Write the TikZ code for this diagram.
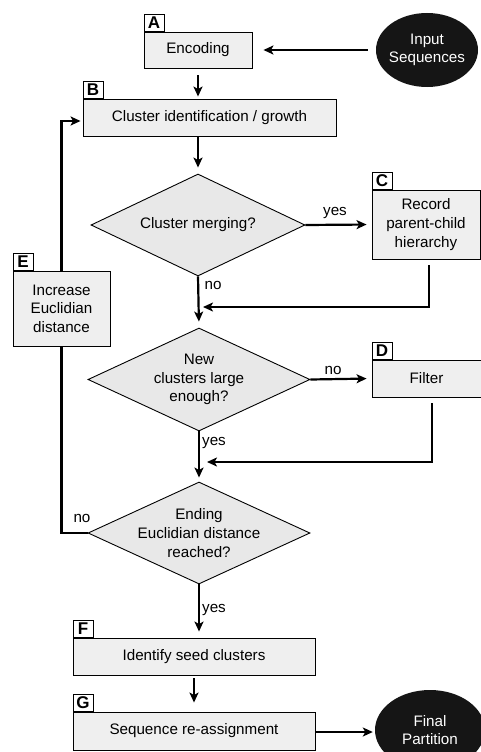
\documentclass[tikz,border=0pt]{standalone}
\usepackage{fontspec}
\setmainfont{Liberation Sans}
\usetikzlibrary{shapes.geometric,arrows.meta,calc}
\definecolor{boxgray}{HTML}{EFEFEF}
\definecolor{diagray}{HTML}{E8E8E8}
\definecolor{ovalblack}{HTML}{151515}
\newcommand{\diagfont}{\fontsize{15.2}{18.6}\selectfont}
\begin{document}
\begin{tikzpicture}[x=1pt,y=-1pt,
  box/.style={draw=black, line width=0.9pt, fill=boxgray, inner sep=0pt, align=center, font=\diagfont},
  tag/.style={draw=black, line width=0.9pt, fill=white, minimum width=20pt, minimum height=17pt, inner sep=0pt, font=\bfseries\fontsize{17}{17}\selectfont, anchor=south west},
  dia/.style={diamond, draw=black, line width=0.9pt, fill=diagray, inner sep=0pt},
  oval/.style={ellipse, fill=ovalblack, inner sep=0pt},
  ovaltext/.style={text=white, align=center, font=\diagfont},
  diatext/.style={align=center, font=\diagfont},
  lbl/.style={font=\diagfont, inner sep=0pt},
  conn/.style={line width=2.2pt, -{Stealth[length=10pt,width=9pt,inset=2.5pt]}},
  plain/.style={line width=2.2pt}
]
\useasboundingbox (0,0) rectangle (481,752);

% nodes
\node[box, minimum width=108pt, minimum height=36pt] (A) at (198,50) {Encoding};
\node[tag] (Atag) at (A.north west) {A};
\node[oval, minimum width=102pt, minimum height=74pt, label={[ovaltext]center:Input\\Sequences}] (inp) at (427,50) {};

\node[box, minimum width=253pt, minimum height=37pt] (B) at (209.5,117.5) {Cluster identification / growth};
\node[tag] (Btag) at (B.north west) {B};

\node[dia, minimum width=214pt, minimum height=102pt, label={[diatext]center:Cluster merging?}] (d1) at (198,225) {};

\node[box, minimum width=108pt, minimum height=69pt] (C) at (426,224.5) {Record\\parent-child\\hierarchy};
\node[tag] (Ctag) at (C.north west) {C};

\node[box, minimum width=97pt, minimum height=75pt] (E) at (61.5,308.5) {Increase\\Euclidian\\distance};
\node[tag] (Etag) at (E.north west) {E};

\node[dia, minimum width=222pt, minimum height=103pt, label={[diatext]center:New\\clusters large\\enough?}] (d2) at (199,379.5) {};

\node[box, minimum width=109pt, minimum height=37pt] (D) at (426.5,378.5) {Filter};
\node[tag] (Dtag) at (D.north west) {D};

\node[dia, minimum width=222pt, minimum height=102pt, label={[diatext]center:Ending\\Euclidian distance\\reached?}] (d3) at (199,533) {};

\node[box, minimum width=242pt, minimum height=37pt] (F) at (194,656.5) {Identify seed clusters};
\node[tag] (Ftag) at (F.north west) {F};

\node[box, minimum width=242pt, minimum height=38pt] (G) at (194,731) {Sequence re-assignment};
\node[tag] (Gtag) at (G.north west) {G};

\node[oval, minimum width=110pt, minimum height=80pt, label={[ovaltext]center:Final\\Partition}] (fin) at (430,730) {};

% junction points
\coordinate (j1) at (198,307);
\coordinate (j2) at (198,462);

% connectors
\draw[conn, shorten <=8pt, shorten >=11pt] (inp.west) -- (A.east);
\draw[conn, shorten <=7pt, shorten >=2pt] (A.south) -- (A.south |- B.north);
\draw[conn, shorten >=6pt] (d1.north |- B.south) -- (d1.north);
\draw[conn, shorten >=5pt] (d1.east) -- (C.west);
\draw[conn, shorten <=6pt, shorten >=5pt] ([xshift=3pt]C.south) |- (j1);
\draw[conn, shorten >=6pt] (d1.south) -- (d2.north);
\draw[conn, shorten >=5pt] (d2.east) -- (D.west);
\draw[conn, shorten <=6pt, shorten >=9pt] ([xshift=5.5pt]D.south) |- (j2);
\draw[conn, shorten >=4pt] (d2.south) -- (d3.north);
\draw[plain] (d3.west) -| (E.south);
\draw[conn, shorten >=2pt] (E.north) |- ([yshift=-3.5pt]B.west);
\draw[conn, shorten >=6pt] (d3.south) -- (d3.south |- F.north);
\draw[conn, shorten <=3pt, shorten >=9pt] (F.south) -- (F.south |- G.north);
\draw[conn, shorten <=1pt, shorten >=2pt] ([yshift=-1pt]G.east) -- ([yshift=-1pt]G.east -| fin.west);

% connector labels
\node[lbl] (l1) at (335,213) {yes};
\node[lbl] (l2) at (213,285) {no};
\node[lbl] (l3) at (333,370) {no};
\node[lbl] (l4) at (214,443) {yes};
\node[lbl] (l5) at (82,518) {no};
\node[lbl] (l6) at (214,610) {yes};
\end{tikzpicture}
\end{document}
